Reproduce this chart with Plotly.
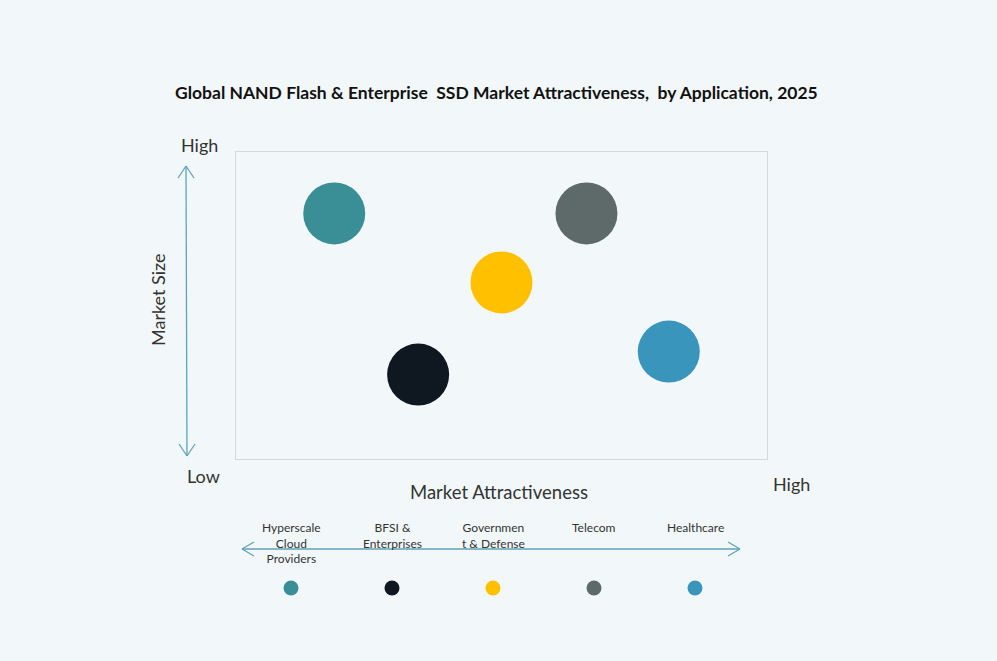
import plotly.graph_objects as go

# ---- data ----
applications = ["Hyperscale Cloud Providers", "BFSI & Enterprises", "Government & Defense", "Telecom", "Healthcare"]
legend_labels = ["Hyperscale<br>Cloud<br>Providers", "BFSI &<br>Enterprises", "Governmen<br>t & Defense", "Telecom", "Healthcare"]
market_attractiveness = [1.85, 3.43, 5.0, 6.6, 8.15]
market_size = [8.0, 2.75, 5.75, 8.0, 3.5]
colors = ["#3A8F96", "#0F1820", "#FFC000", "#5E6A6A", "#3A95BC"]

W, H = 997, 661
BG = "#F2F8FA"
ARROW = "#5FA3B8"
TXT = "#333333"
FONT = "Lato"

def px(x):
    return x / W

def py(y):
    return 1 - y / H

fig = go.Figure()

# bubbles
fig.add_trace(go.Scatter(
    x=market_attractiveness, y=market_size, mode="markers",
    marker=dict(size=62, color=colors, line=dict(width=0)),
    text=applications, hoverinfo="text", showlegend=False,
    xaxis="x", yaxis="y",
))

# legend row dots
fig.add_trace(go.Scatter(
    x=list(range(len(applications))), y=[0] * len(applications), mode="markers",
    marker=dict(size=15, color=colors, line=dict(width=0)),
    text=applications, hoverinfo="text", showlegend=False,
    xaxis="x2", yaxis="y2",
))

fig.update_layout(
    width=W, height=H,
    margin=dict(l=0, r=0, t=0, b=0),
    paper_bgcolor=BG, plot_bgcolor=BG,
    font=dict(family=FONT, color=TXT),
    xaxis=dict(domain=[px(236), px(767)], range=[0, 10], showgrid=False, zeroline=False,
               showticklabels=False, ticks="", showline=True, mirror=True,
               linecolor="#D3DADD", linewidth=1, fixedrange=True),
    yaxis=dict(domain=[py(459), py(152)], range=[0, 10], showgrid=False, zeroline=False,
               showticklabels=False, ticks="", showline=True, mirror=True,
               linecolor="#D3DADD", linewidth=1, fixedrange=True),
    xaxis2=dict(domain=[px(240.5), px(745.5)], range=[-0.5, 4.5], visible=False,
                anchor="y2", fixedrange=True),
    yaxis2=dict(domain=[py(608), py(568)], range=[-1, 1], visible=False,
                anchor="x2", fixedrange=True),
)

annotations = [
    dict(text="<b>Global NAND Flash & Enterprise  SSD Market Attractiveness,  by Application, 2025</b>",
         x=px(496), y=py(92), xref="paper", yref="paper", showarrow=False,
         font=dict(size=17.5, color="#111111"), xanchor="center", yanchor="middle"),
    dict(text="High", x=px(199), y=py(145), xref="paper", yref="paper", showarrow=False,
         font=dict(size=18, color=TXT), xanchor="center", yanchor="middle"),
    dict(text="Low", x=px(203), y=py(476), xref="paper", yref="paper", showarrow=False,
         font=dict(size=18, color=TXT), xanchor="center", yanchor="middle"),
    dict(text="Market Size", x=px(158), y=py(300), xref="paper", yref="paper", showarrow=False,
         textangle=-90, font=dict(size=18, color=TXT), xanchor="center", yanchor="middle"),
    dict(text="Market Attractiveness", x=px(499), y=py(492), xref="paper", yref="paper",
         showarrow=False, font=dict(size=18.5, color=TXT), xanchor="center", yanchor="middle"),
    dict(text="High", x=px(791), y=py(484), xref="paper", yref="paper", showarrow=False,
         font=dict(size=18, color=TXT), xanchor="center", yanchor="middle"),
]
for i, lab in enumerate(legend_labels):
    annotations.append(dict(text=lab, x=i, y=py(518), xref="x2", yref="paper", showarrow=False,
                            font=dict(size=12, color=TXT), xanchor="center", yanchor="top",
                            align="center"))
fig.update_layout(annotations=annotations)

# arrows (decorative shapes)
line = dict(color=ARROW, width=1.3)
shapes = [
    # vertical double arrow
    dict(type="line", xref="paper", yref="paper", x0=px(186), x1=px(187), y0=py(166), y1=py(456), line=line),
    dict(type="line", xref="paper", yref="paper", x0=px(178), x1=px(186), y0=py(178), y1=py(166), line=line),
    dict(type="line", xref="paper", yref="paper", x0=px(194), x1=px(186), y0=py(178), y1=py(166), line=line),
    dict(type="line", xref="paper", yref="paper", x0=px(179), x1=px(187), y0=py(444), y1=py(456), line=line),
    dict(type="line", xref="paper", yref="paper", x0=px(195), x1=px(187), y0=py(444), y1=py(456), line=line),
    # horizontal double arrow
    dict(type="line", xref="paper", yref="paper", x0=px(242), x1=px(740), y0=py(549), y1=py(549), line=line),
    dict(type="line", xref="paper", yref="paper", x0=px(254), x1=px(242), y0=py(542), y1=py(549), line=line),
    dict(type="line", xref="paper", yref="paper", x0=px(254), x1=px(242), y0=py(556), y1=py(549), line=line),
    dict(type="line", xref="paper", yref="paper", x0=px(728), x1=px(740), y0=py(542), y1=py(549), line=line),
    dict(type="line", xref="paper", yref="paper", x0=px(728), x1=px(740), y0=py(556), y1=py(549), line=line),
]
fig.update_layout(shapes=shapes)

fig.write_html("out.html", config={"displayModeBar": False},
               post_script="document.body.style.margin='0';document.body.style.background='" + BG + "';")
